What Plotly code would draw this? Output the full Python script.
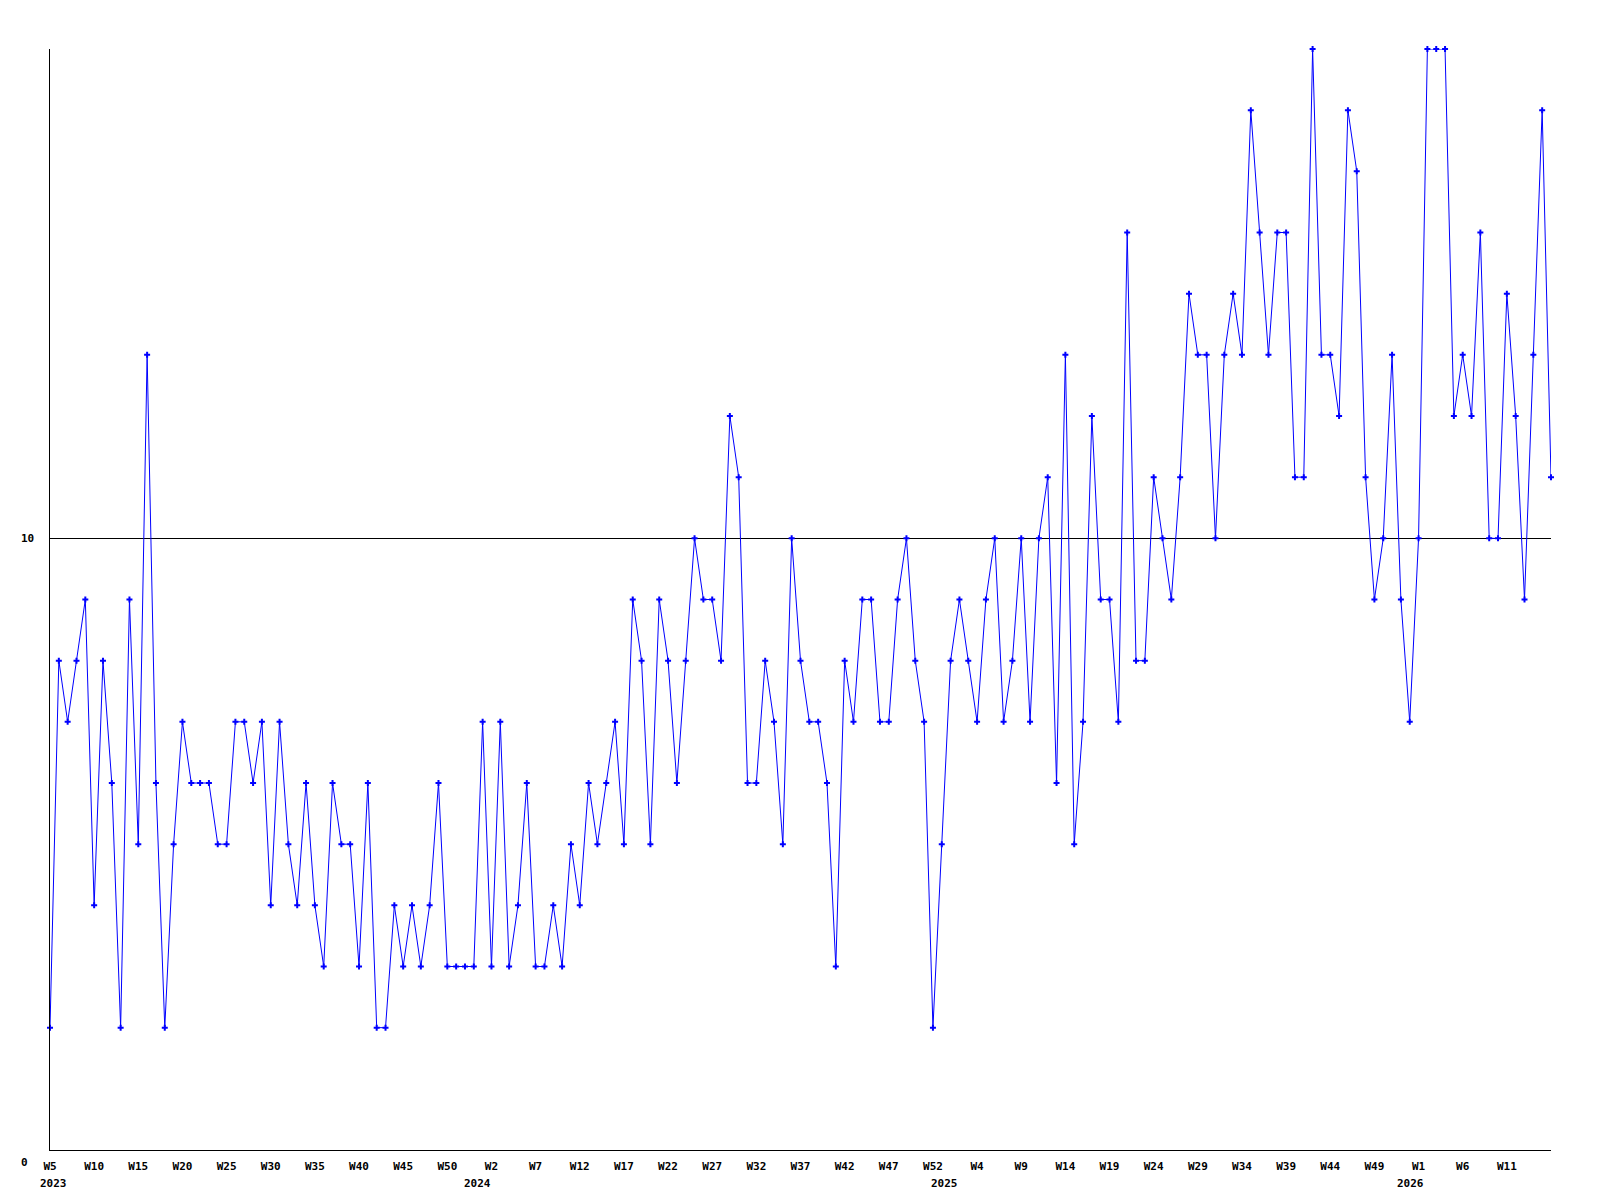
import plotly.graph_objects as go

# weekly values, 2023 W5 .. 2026 W16
values = [
    2, 8, 7, 8, 9, 4, 8, 6, 2, 9, 5, 13, 6, 2, 5, 7, 6, 6, 6, 5, 5, 7,
    7, 6, 7, 4, 7, 5, 4, 6, 4, 3, 6, 5, 5, 3, 6, 2, 2, 4, 3, 4, 3, 4,
    6, 3, 3, 3, 3, 7, 3, 7, 3, 4, 6, 3, 3, 4, 3, 5, 4, 6, 5, 6, 7,
    5, 9, 8, 5, 9, 8, 6, 8, 10, 9, 9, 8, 12, 11, 6, 6, 8, 7, 5, 10, 8, 7,
    7, 6, 3, 8, 7, 9, 9, 7, 7, 9, 10, 8, 7, 2, 5, 8, 9, 8, 7, 9, 10,
    7, 8, 10, 7, 10, 11, 6, 13, 5, 7, 12, 9, 9, 7, 15, 8, 8, 11, 10, 9, 11, 14,
    13, 13, 10, 13, 14, 13, 17, 15, 13, 15, 15, 11, 11, 18, 13, 13, 12, 17, 16, 11, 9,
    10, 13, 9, 7, 10, 18, 18, 18, 12, 13, 12, 15, 10, 10, 14, 12, 9, 13, 17, 11,
]

week_ticks = [
    "W5", "W10", "W15", "W20", "W25", "W30", "W35", "W40", "W45", "W50",
    "W2", "W7", "W12", "W17", "W22", "W27", "W32", "W37", "W42", "W47", "W52",
    "W4", "W9", "W14", "W19", "W24", "W29", "W34", "W39", "W44", "W49",
    "W1", "W6", "W11",
]
years = ["2023", "2024", "2025", "2026"]
year_pos = [0.4, 48.4, 101.3, 154.1]

y_ticks = [0, 10]

FONT = dict(family="DejaVu Sans Mono", size=11, color="black", weight="bold")

x = list(range(len(values)))

fig = go.Figure()
fig.add_trace(go.Scatter(
    x=x, y=values,
    mode="lines+markers",
    line=dict(color="#0000ff", width=1),
    marker=dict(symbol="cross", size=5, color="#0000ff", line=dict(width=0)),
    cliponaxis=False,
    hoverinfo="skip",
))

annotations = []
# year labels under the week ticks
for yr, p in zip(years, year_pos):
    annotations.append(dict(
        text=yr, x=p, y=0, xref="x", yref="y",
        yshift=-33, showarrow=False, font=FONT,
    ))
# y labels are left aligned, "0" sits below its line
for v in y_ticks:
    annotations.append(dict(
        text=str(v), x=0, y=v, xref="paper", yref="y",
        xanchor="left", xshift=-31, yshift=-12 if v == 0 else 0,
        showarrow=False, font=FONT,
    ))

fig.update_layout(
    width=1600, height=1200,
    margin=dict(l=50, r=49, t=49, b=50),
    paper_bgcolor="white", plot_bgcolor="white",
    showlegend=False,
    font=FONT,
    xaxis=dict(
        range=[0, len(values) - 1],
        tickvals=list(range(0, len(values), 5))[:len(week_ticks)],
        ticktext=week_ticks,
        ticks="", showgrid=False, zeroline=False,
        showline=True, linecolor="black", linewidth=1,
        ticklabelstandoff=6,
        tickfont=FONT,
    ),
    yaxis=dict(
        range=[0, 18],
        tickvals=y_ticks,
        showticklabels=False,
        ticks="",
        showgrid=True, gridcolor="black", gridwidth=1,
        zeroline=False,
        showline=True, linecolor="black", linewidth=1,
    ),
    annotations=annotations,
)

fig.write_html(
    "out.html",
    config={"displayModeBar": False},
    post_script="document.body.style.margin='0';",
)
